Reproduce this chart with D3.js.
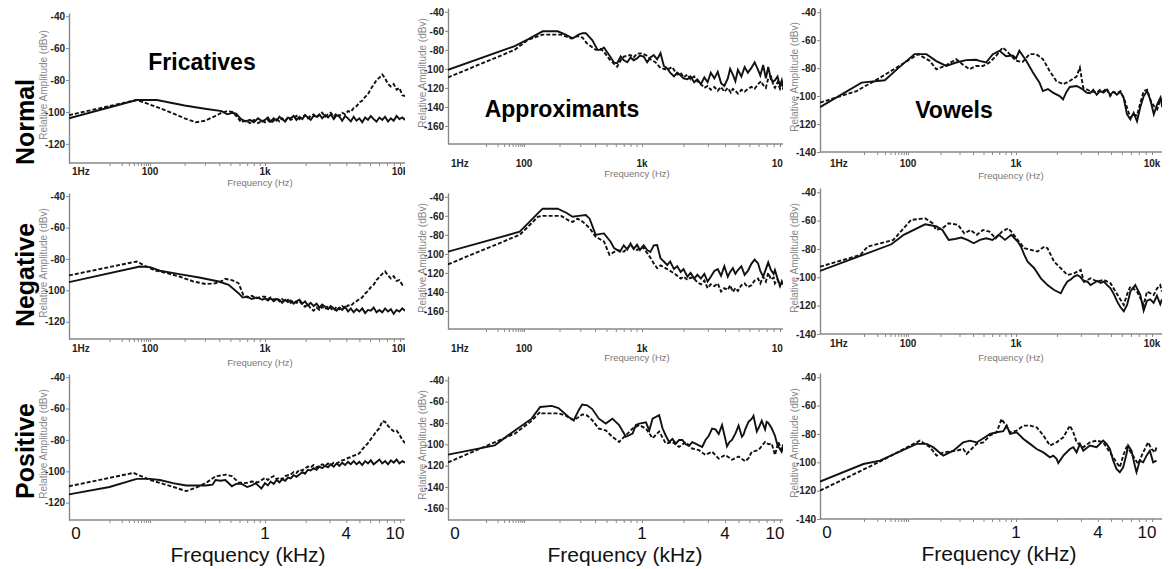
<!DOCTYPE html>
<html><head><meta charset="utf-8">
<script src="https://cdn.jsdelivr.net/npm/d3@7"></script>
<style>body{margin:0;background:#fff}svg{display:block}</style>
</head><body>
<svg id="chart" width="1171" height="569"></svg>
<script>
// ---------- categories & tick labels ----------
const rowNames = ["Normal", "Negative", "Positive"];
const colNames = ["Fricatives", "Approximants", "Vowels"];
const topTickValues = [1, 100, 1000, 10000];
const topTickLabels = ["1Hz", "100", "1k", "10k"];
const bottomTickValues = [1, 1000, 4000, 10000];
const bottomTickLabels = ["0", "1", "4", "10"];
const minorTickValues = [10,20,30,40,50,60,70,80,90,200,300,400,500,600,700,800,900,2000,3000,4000,5000,6000,7000,8000,9000];
const yTicksFric = [-40, -60, -80, -100, -120];
const yTicksAppr = [-40, -60, -80, -100, -120, -140, -160];
const yTicksVow = [-40, -60, -80, -100, -120, -140];
const yTitle = "Relative Amplitude (dBv)";
const xTitleHz = "Frequency (Hz)";
const xTitleKHz = "Frequency (kHz)";

// ---------- series: [frequency Hz, relative amplitude dBv] ----------
const fricNormalSolid = [[1,-104],[47,-92.5],[115,-92.5],[200,-96],[300,-98],[420,-99.5],[470,-101.5],[520,-100.5],[560,-101],[620,-104.5],[680,-106],[740,-105],[800,-106.5],[870,-104],[950,-106],[1000,-105],[1050,-103.5],[1100,-106],[1160,-104],[1220,-105.5],[1280,-103],[1340,-104.5],[1410,-106],[1480,-103.5],[1550,-104],[1630,-102.5],[1710,-105],[1800,-103],[1890,-104.5],[1980,-102],[2080,-103.5],[2180,-105],[2290,-102.5],[2410,-103],[2530,-101.5],[2650,-104],[2790,-102],[2930,-103.5],[3070,-101.5],[3230,-104.5],[3390,-102],[3560,-103],[3730,-105.5],[3920,-102.5],[4120,-104],[4320,-106],[4540,-103],[4760,-105.5],[5000,-104],[5250,-106.5],[5520,-103.5],[5790,-105],[6080,-102.5],[6380,-104.5],[6700,-106],[7040,-103.5],[7390,-105],[7760,-103],[8150,-106],[8560,-104],[8980,-105.5],[9430,-102.5],[9900,-104.5],[10400,-103.5],[10900,-105]];
const fricNormalDashed = [[1,-102],[47,-92.5],[80,-94.5],[120,-97.5],[160,-101],[200,-104],[250,-106.5],[300,-105.5],[360,-103],[420,-100.5],[470,-99.5],[520,-100],[570,-103],[620,-106.5],[680,-105.5],[740,-107],[800,-105],[870,-107],[950,-105.5],[1000,-106.5],[1050,-105],[1100,-107],[1160,-105.5],[1220,-104.5],[1280,-106],[1340,-104],[1410,-105.5],[1480,-103.5],[1550,-105],[1630,-104],[1710,-102.5],[1800,-104.5],[1890,-103],[1980,-102],[2080,-104],[2180,-102.5],[2290,-101.5],[2410,-103.5],[2530,-102],[2650,-100.5],[2790,-103],[2930,-101.5],[3070,-100.5],[3230,-103],[3390,-101],[3560,-102.5],[3730,-100.5],[3920,-101.5],[4120,-99.5],[4320,-100],[4540,-97.5],[4760,-96.5],[5000,-94],[5250,-93],[5520,-90.5],[5790,-89],[6080,-85.5],[6380,-83],[6700,-80],[7040,-78.5],[7390,-76.5],[7760,-79],[8150,-82.5],[8560,-84],[8980,-82.5],[9430,-86],[9900,-85],[10400,-89.5],[10900,-90]];

const fricNegativeSolid = [[1,-94.8],[56,-84.8],[100,-85.2],[122,-87.5],[180,-89.7],[268,-91.8],[396,-94.4],[483,-96.5],[588,-101.8],[640,-104.6],[700,-104],[766,-105.5],[850,-104.5],[950,-106],[1000,-105],[1050,-106.5],[1100,-105],[1160,-107],[1220,-105.5],[1280,-106],[1340,-108],[1410,-106],[1480,-107.5],[1550,-106.5],[1630,-108.5],[1710,-107],[1800,-106],[1890,-108.5],[1980,-107],[2080,-109.5],[2180,-108],[2290,-110],[2410,-108.5],[2530,-111],[2650,-109],[2790,-110.5],[2930,-112],[3070,-110],[3230,-111.5],[3390,-113],[3560,-111],[3730,-112.5],[3920,-110.5],[4120,-113.5],[4320,-111.5],[4540,-114],[4760,-112],[5000,-113.5],[5250,-111.5],[5520,-114.5],[5790,-112.5],[6080,-113],[6380,-111],[6700,-114],[7040,-112.5],[7390,-114],[7760,-111.5],[8150,-113.5],[8560,-112],[8980,-115],[9430,-112.5],[9900,-113.5],[10400,-111.5],[10900,-113]];
const fricNegativeDashed = [[1,-90.5],[47,-81.6],[82,-84.8],[110,-87.3],[140,-89],[180,-91.2],[240,-94.4],[305,-96],[370,-95.5],[424,-94],[450,-92.7],[515,-93.5],[588,-95.4],[648,-103],[700,-104.5],[766,-103.5],[850,-105],[950,-104],[1000,-104],[1050,-105.5],[1100,-104.5],[1160,-106],[1220,-105],[1280,-107],[1340,-105.5],[1410,-107.5],[1480,-106],[1550,-108],[1630,-106.5],[1710,-108],[1800,-107],[1890,-109],[1980,-110.5],[2080,-109],[2180,-111.5],[2290,-113],[2410,-111],[2530,-112.5],[2650,-110.5],[2790,-112],[2930,-110],[3070,-111.5],[3230,-113],[3390,-110.5],[3560,-112],[3730,-110],[3920,-111.5],[4120,-109.5],[4320,-110],[4540,-108],[4760,-107],[5000,-105.5],[5250,-104.5],[5520,-102],[5790,-100.5],[6080,-98],[6380,-96.5],[6700,-93.5],[7040,-91.5],[7390,-89.5],[7760,-88],[8150,-90.5],[8560,-92.5],[8980,-91],[9430,-94],[9900,-93.5],[10400,-96.5],[10900,-97]];

const fricPositiveSolid = [[1,-114.7],[10,-110],[47,-104.8],[100,-104.8],[122,-105.5],[158,-107.5],[206,-109],[250,-109],[305,-109],[350,-108.5],[371,-105.5],[410,-106],[452,-105.5],[515,-109.5],[560,-108],[628,-108],[700,-110],[766,-109],[830,-107.5],[930,-111],[1000,-107.5],[1050,-109],[1100,-106.5],[1160,-108],[1220,-105.5],[1280,-107],[1340,-105],[1410,-106],[1480,-104],[1550,-104.5],[1630,-102.5],[1710,-103.5],[1800,-102],[1890,-100.5],[1980,-101.5],[2080,-99],[2180,-99.5],[2290,-98],[2410,-99],[2530,-97],[2650,-98],[2790,-96.5],[2930,-97.5],[3070,-95.5],[3230,-97],[3390,-95],[3560,-96.5],[3730,-94.5],[3920,-96],[4120,-94],[4320,-95.5],[4540,-93.5],[4760,-95.5],[5000,-94],[5250,-96],[5520,-93.5],[5790,-95],[6080,-93],[6380,-95.5],[6700,-94],[7040,-92.5],[7390,-95],[7760,-93.5],[8150,-95.5],[8560,-93],[8980,-94.5],[9430,-92.5],[9900,-95],[10400,-93.5],[10900,-94.5]];
const fricPositiveDashed = [[1,-109.5],[39,-101],[60,-103],[100,-105.5],[130,-108],[160,-110],[206,-112.6],[250,-110.5],[305,-107.5],[371,-103.2],[452,-102.1],[515,-103],[588,-107],[680,-107.5],[766,-106.5],[871,-107],[1000,-104.2],[1050,-105.5],[1100,-104],[1160,-103],[1220,-105],[1280,-104],[1340,-105],[1410,-103],[1480,-102.5],[1550,-102],[1630,-100.5],[1710,-101],[1800,-99],[1890,-99.5],[1980,-98],[2080,-97],[2180,-97.5],[2290,-96],[2410,-97.5],[2530,-96.5],[2650,-95.5],[2790,-96.5],[2930,-95],[3070,-96],[3230,-94.5],[3390,-95],[3560,-94],[3730,-93],[3920,-92.5],[4120,-91.5],[4320,-91],[4540,-90],[4760,-89.5],[5000,-88.5],[5250,-86],[5520,-84],[5790,-82],[6080,-79.5],[6380,-77],[6700,-74.5],[7040,-72.5],[7390,-68],[7760,-68.5],[8150,-71],[8560,-73],[8980,-74.5],[9430,-74],[9900,-76.5],[10400,-80],[10900,-82]];

const apprNormalSolid = [[1,-101],[57,-76],[108,-69],[144,-60.5],[193,-60.5],[225,-64],[258,-68],[290,-64],[313,-62.5],[334,-62.5],[380,-70],[420,-80],[446,-80],[476,-77.5],[530,-86],[580,-93.5],[616,-94],[660,-87],[702,-91],[750,-93],[800,-88],[850,-91],[908,-89],[960,-86],[1028,-87],[1090,-93],[1151,-88],[1217,-85.5],[1287,-90],[1362,-83.5],[1440,-97],[1524,-99.5],[1600,-104],[1705,-108],[1800,-104],[1907,-107],[2000,-110],[2134,-111],[2250,-108],[2388,-114],[2520,-111],[2671,-116],[2830,-109],[2989,-114],[3150,-104],[3344,-110],[3540,-103],[3741,-115],[3950,-118],[4186,-110],[4350,-100],[4554,-106],[4750,-113],[4954,-101],[5250,-108],[5542,-98],[5850,-104],[6200,-99],[6550,-93],[6937,-101],[7200,-107],[7549,-96],[7900,-110],[8215,-98],[8600,-111],[9000,-113],[9190,-112],[9600,-108],[10000,-118],[10300,-112],[10578,-120]];
const apprNormalDashed = [[1,-109],[57,-80],[108,-69.5],[144,-64],[206,-64],[250,-68],[284,-65.5],[313,-67],[340,-73],[405,-80],[446,-79],[476,-82],[530,-90],[616,-97.7],[660,-91],[702,-87],[798,-85.5],[850,-88],[908,-84],[1000,-83.7],[1080,-86],[1151,-90],[1250,-93],[1362,-99],[1524,-101],[1650,-98],[1800,-106],[1907,-104],[2000,-109],[2134,-106],[2250,-111],[2388,-108],[2520,-113],[2671,-116],[2830,-120],[2989,-118],[3150,-122],[3344,-119],[3540,-123],[3741,-119],[3950,-124],[4186,-120],[4400,-125],[4554,-121],[4750,-123],[4954,-126],[5250,-122],[5542,-124],[5850,-121],[6200,-119],[6550,-121],[6937,-116],[7300,-113],[7549,-117],[7900,-120],[8215,-110],[8600,-108],[9000,-118],[9190,-120],[9600,-114],[10000,-121],[10300,-116],[10578,-122]];

const apprNegativeSolid = [[1,-97.7],[77,-76.7],[108,-68],[131,-57.5],[144,-52.5],[193,-52.5],[230,-57],[258,-61],[290,-60],[334,-59.2],[360,-63],[405,-80],[446,-79],[476,-78.5],[540,-87],[580,-94],[650,-97.7],[700,-91],[750,-95.5],[800,-89],[850,-95],[908,-90.5],[960,-96],[1028,-91],[1090,-96],[1151,-98],[1217,-91],[1287,-90.7],[1362,-104.7],[1440,-108],[1524,-111.7],[1600,-108],[1705,-116],[1800,-113],[1907,-119],[2000,-116],[2134,-124],[2250,-120],[2388,-126],[2520,-122],[2671,-126],[2830,-121],[2989,-129],[3150,-124],[3344,-118],[3540,-116],[3741,-123],[3950,-113],[4186,-124],[4350,-119],[4554,-115],[4750,-121],[4954,-117],[5250,-113],[5542,-122],[5850,-118],[6200,-110.5],[6550,-106],[6937,-110],[7200,-118],[7549,-124],[7900,-116],[8215,-109],[8600,-117],[9000,-121],[9190,-117],[9600,-126],[10000,-133],[10300,-130],[10578,-132]];
const apprNegativeDashed = [[1,-111],[77,-80],[108,-71.5],[131,-61],[144,-60],[206,-60],[240,-65],[258,-66.5],[284,-63],[313,-66],[360,-73],[405,-82],[476,-87],[530,-101],[616,-96],[702,-97.7],[798,-90.7],[850,-94],[908,-96],[980,-93],[1028,-94],[1151,-104],[1217,-110],[1287,-115],[1362,-112],[1440,-114],[1524,-116],[1705,-120.4],[1800,-123],[1907,-126],[2000,-124],[2134,-127.4],[2250,-125],[2388,-126],[2520,-130],[2671,-132],[2830,-128],[2989,-136],[3150,-132],[3344,-134],[3540,-131],[3741,-139.7],[3950,-136],[4186,-138],[4350,-133],[4554,-140],[4750,-136],[4954,-139],[5250,-133],[5542,-131],[5850,-135],[6200,-133],[6550,-128],[6937,-126],[7200,-131],[7549,-124],[7900,-129],[8215,-120],[8600,-127],[9000,-125],[9190,-131],[9600,-127],[10000,-134],[10300,-129],[10578,-134]];

const apprPositiveSolid = [[1,-109.7],[17,-101],[57.6,-87],[116,-76],[137,-65],[172,-64],[196,-66],[239,-74.4],[264,-77.5],[291,-68],[311,-62.8],[343,-63.5],[379,-67],[431,-76],[493,-80.6],[561,-76],[640,-82],[730,-93],[832,-90],[888,-82],[948,-80.6],[1068,-79.5],[1129,-87],[1193,-76],[1332,-72.8],[1408,-85],[1488,-92],[1572,-97.8],[1661,-95],[1756,-99.4],[1856,-96],[1961,-96],[2072,-100],[2190,-101.5],[2314,-98],[2445,-99.4],[2584,-101],[2730,-102.5],[2885,-96],[3050,-92],[3222,-85.3],[3404,-86],[3598,-90.4],[3802,-82],[4018,-95],[4130,-102],[4300,-98],[4487,-96],[4750,-90],[5012,-82.5],[5296,-93],[5445,-91],[5597,-86],[5914,-79],[6250,-76],[6425,-73.4],[6790,-88],[6980,-85],[7375,-78],[7794,-86],[8000,-79],[8236,-80],[8703,-85],[9197,-92],[9456,-98],[9718,-102],[10270,-107],[10558,-100]];
const apprPositiveDashed = [[1,-117],[57.6,-90],[116,-78],[137,-69.7],[142,-71],[196,-71],[224,-73],[264,-77.5],[291,-74.4],[311,-72],[343,-73],[379,-77.5],[431,-85.3],[493,-87],[561,-93],[640,-97.8],[730,-91.5],[832,-85.3],[948,-82],[1068,-85.3],[1193,-94.4],[1332,-88],[1488,-99.4],[1661,-97.8],[1856,-102.5],[2072,-98],[2314,-104],[2584,-105.5],[2885,-110],[3222,-107],[3598,-113.4],[4018,-110],[4487,-114.5],[5012,-111.5],[5597,-116],[5914,-113],[6250,-107],[6980,-105.5],[7794,-97.8],[8236,-100],[8703,-99.4],[9197,-110],[9718,-98],[10270,-105],[10558,-107]];

const vowNormalSolid = [[1,-107.9],[8.8,-90.4],[29.7,-88.7],[60,-80],[115,-70],[148,-70],[183,-75],[226,-78.4],[279,-76],[345,-74.3],[427,-74],[459,-74.8],[529,-76],[610,-70],[703,-67.6],[810,-71.5],[934,-71],[1000,-73],[1058,-67.6],[1186,-74.5],[1329,-83],[1489,-90.4],[1576,-96.4],[1716,-95],[1869,-97.5],[2095,-100],[2217,-102.3],[2350,-97],[2485,-93.5],[2785,-92.8],[2948,-94],[3120,-95.5],[3300,-97.5],[3497,-98],[3700,-95.5],[3919,-99],[4150,-96.5],[4392,-97.5],[4650,-95.5],[4922,-99],[5200,-97],[5516,-99],[5850,-97],[6182,-101],[6544,-113],[6927,-116.7],[7333,-112],[7762,-118],[8200,-108],[8694,-100],[9203,-96.4],[9742,-103],[10312,-113],[10916,-106],[11556,-101],[11889,-108]];
const vowNormalDashed = [[1,-104.7],[6.8,-96.4],[27,-85.6],[111,-72.4],[124,-70],[159,-74.8],[183,-80.8],[226,-78],[279,-73.6],[322,-77.5],[371,-80.8],[427,-78.5],[493,-78.5],[568,-76],[655,-71.2],[755,-65.2],[870,-69.8],[1000,-74.8],[1121,-75.5],[1255,-70],[1406,-70],[1576,-73.5],[1766,-82],[1979,-89.2],[2217,-91.5],[2485,-89.2],[2785,-86],[2948,-79.6],[3120,-94],[3497,-96.4],[3919,-97.5],[4150,-95.5],[4392,-96.5],[4650,-94.5],[4922,-100],[5200,-97],[5516,-98],[5850,-96.5],[6182,-101],[6544,-108],[6927,-115.5],[7333,-113],[7762,-114],[8200,-105],[8694,-96.4],[9203,-95.5],[9742,-103],[10312,-107],[10916,-109.5],[11556,-102],[11889,-103]];

const vowNegativeSolid = [[1,-95.5],[42,-76.7],[80,-70],[144,-62.6],[182,-64],[208,-66.6],[238,-73.6],[272,-73],[311,-72],[355,-73.6],[406,-76],[464,-73.6],[530,-72.5],[606,-73.6],[693,-70],[792,-73.6],[905,-70],[1028,-74.8],[1088,-78.4],[1151,-84.2],[1217,-89],[1362,-93.6],[1524,-100.7],[1705,-105.5],[1907,-109],[2134,-111.3],[2257,-106.6],[2388,-103],[2526,-101.5],[2671,-99.5],[2826,-98.4],[2989,-100],[3162,-103],[3344,-103],[3537,-105.5],[3741,-104],[3958,-102.5],[4186,-104],[4428,-103],[4684,-105.5],[4954,-107.8],[5250,-112],[5542,-117],[5850,-121],[6200,-124],[6558,-119.5],[6937,-110],[7535,-105.5],[8210,-112.5],[8684,-123.5],[9186,-116.5],[9716,-115.5],[10277,-118],[10870,-113],[11498,-119],[11826,-115.5]];
const vowNegativeDashed = [[1,-92.5],[8.3,-84.2],[12.1,-78.4],[46.4,-73.6],[107,-59.5],[144,-58.4],[170,-62],[182,-66.6],[208,-65.4],[238,-61.9],[291,-63],[332,-69],[380,-66.6],[434,-70],[496,-66.6],[567,-67.8],[648,-72.5],[741,-67.8],[847,-65.4],[905,-67.8],[1028,-73.6],[1151,-79.5],[1288,-80.7],[1441,-81.8],[1612,-78.4],[1705,-79.5],[1907,-89],[2134,-93.6],[2388,-98.4],[2671,-97.2],[2989,-94.8],[3162,-103],[3537,-100.7],[3958,-103],[4428,-101.8],[4954,-104.2],[5542,-112],[6200,-119.5],[6558,-112],[6937,-106.5],[7762,-110],[8684,-119.5],[9186,-110],[10277,-112.5],[10870,-108],[11498,-105.5],[11826,-110]];

const vowPositiveSolid = [[1,-113.6],[9.7,-101.2],[23,-98.8],[120,-87],[149,-87],[172,-89.5],[212,-95.3],[263,-91.8],[325,-85.9],[375,-84.7],[432,-86],[499,-83],[575,-80],[662,-78.8],[763,-78],[820,-74],[880,-80],[1011,-78.8],[1135,-83.5],[1268,-87],[1419,-90.6],[1588,-93],[1777,-96.5],[1880,-95.3],[1989,-97.6],[2046,-100.5],[2228,-95.3],[2493,-90.6],[2638,-89.4],[2790,-93],[2952,-87],[3123,-91.8],[3495,-88.2],[3912,-89.4],[4378,-84.7],[4631,-87],[4900,-90.6],[5183,-98.8],[5484,-104.7],[5801,-107],[6138,-103.5],[6494,-94.1],[6679,-88.2],[7067,-91.8],[7480,-102.4],[7693,-107],[8141,-98.8],[8612,-100],[9112,-95.3],[9639,-91.8],[10198,-100],[10790,-98.8]];
const vowPositiveDashed = [[1,-120],[23,-99.5],[120,-85.9],[129,-84.7],[160,-89.4],[184,-95.3],[212,-93],[282,-91.8],[325,-90.6],[349,-94.1],[432,-87],[499,-85.9],[575,-81],[662,-78.8],[736,-69.4],[880,-78.8],[1011,-77.6],[1135,-74.1],[1268,-74.1],[1419,-75.3],[1588,-81],[1777,-88.2],[1989,-85.9],[2228,-82.4],[2493,-74.1],[2638,-78.8],[2790,-85.9],[3123,-89.4],[3495,-85.9],[3912,-84.7],[4378,-85.9],[4900,-93],[5484,-100],[5801,-103.5],[6138,-95.3],[6494,-89.4],[6870,-91.8],[7480,-97.6],[7914,-101.2],[8612,-93],[9372,-85.9],[9915,-90.6],[10490,-93],[10790,-89.4]];

const seriesGrid = [
  [[fricNormalSolid, fricNormalDashed], [apprNormalSolid, apprNormalDashed], [vowNormalSolid, vowNormalDashed]],
  [[fricNegativeSolid, fricNegativeDashed], [apprNegativeSolid, apprNegativeDashed], [vowNegativeSolid, vowNegativeDashed]],
  [[fricPositiveSolid, fricPositiveDashed], [apprPositiveSolid, apprPositiveDashed], [vowPositiveSolid, vowPositiveDashed]]
];
const yTicksByCol = [yTicksFric, yTicksAppr, yTicksVow];

// ---------- layout (pixel geometry only) ----------
const colGeom = [
  {knots: [69, 150, 265, 400], right: 405, firstDx: 3},
  {knots: [448, 524, 642, 780], right: 783, firstDx: 3},
  {knots: [820, 908, 1016, 1152], right: 1162, firstDx: 10}
];
const panelGeom = [
  [{top: 13, bottom: 163, dom: [-132, -38], lab: 8, tit: 20}, {top: 8, bottom: 144, dom: [-179, -36], lab: 19, tit: 30}, {top: 8, bottom: 152, dom: [-140, -37], lab: 11, tit: 24}],
  [{top: 193, bottom: 339, dom: [-131, -38], lab: 9, tit: 24}, {top: 193, bottom: 329, dom: [-179, -36], lab: 19, tit: 29}, {top: 188, bottom: 334, dom: [-140, -37], lab: 9, tit: 24}],
  [{top: 374, bottom: 520, dom: [-131, -38]}, {top: 376, bottom: 520, dom: [-171, -36]}, {top: 373, bottom: 519, dom: [-140, -37]}]
];
const colTitlePos = [{x: 202, y: 70}, {x: 562, y: 117}, {x: 954, y: 118}];
const rowTitlePos = [{x: 34, y: 122}, {x: 34, y: 275}, {x: 34, y: 451}];

const FONT = "'Liberation Sans', Arial, Helvetica, sans-serif";
const svg = d3.select("#chart");
const defs = svg.append("defs");
const line = d3.line();

for (let r = 0; r < 3; r++) {
  for (let c = 0; c < 3; c++) {
    const cg = colGeom[c], pg = panelGeom[r][c];
    const k = cg.knots;
    const x = d3.scaleLog()
      .domain([1, 100, 1000, 10000, 100000])
      .range([k[0], k[1], k[2], k[3], k[3] + (k[3] - k[2])]);
    const y = d3.scaleLinear().domain(pg.dom).range([pg.bottom, pg.top]);
    const g = svg.append("g");
    const id = `clip${r}${c}`;
    defs.append("clipPath").attr("id", id).append("rect")
      .attr("x", k[0]).attr("y", pg.top - 6)
      .attr("width", cg.right - k[0]).attr("height", pg.bottom - pg.top + 5);
    const lid = `lclip${r}${c}`;
    defs.append("clipPath").attr("id", lid).append("rect")
      .attr("x", k[0] - 60).attr("y", pg.bottom).attr("width", cg.right - k[0] + 60).attr("height", 60);

    // y axis
    const yAxis = d3.axisLeft(y).tickValues(yTicksByCol[c]).tickSize(3).tickSizeOuter(0).tickPadding(1).tickFormat(d => d);
    const ya = g.append("g").attr("transform", `translate(${k[0]},0)`).call(yAxis);
    ya.select(".domain").attr("stroke", "#888").attr("stroke-width", 1.4);
    ya.selectAll(".tick line").attr("stroke", "#888");
    ya.selectAll(".tick text").attr("font-family", FONT).attr("font-size", 10)
      .attr("font-weight", "bold").attr("fill", "#222");

    // x axis line + minor ticks
    g.append("line").attr("x1", k[0]).attr("x2", cg.right).attr("y1", pg.bottom).attr("y2", pg.bottom)
      .attr("stroke", "#888").attr("stroke-width", 1.4);
    const xAxis = d3.axisBottom(x).tickValues(minorTickValues.concat([100, 1000, 10000])).tickSize(3).tickSizeOuter(0).tickFormat("");
    const xa = g.append("g").attr("transform", `translate(0,${pg.bottom})`).call(xAxis);
    xa.select(".domain").remove();
    xa.selectAll(".tick line").attr("stroke", "#888");

    // y title
    g.append("text")
      .attr("transform", `translate(${k[0] - 26},${(pg.top + pg.bottom) / 2 - 3}) rotate(-90)`)
      .attr("text-anchor", "middle").attr("dy", "0.35em")
      .attr("font-family", FONT).attr("font-size", 10).attr("fill", "#888")
      .text(yTitle);

    if (r < 2) {
      const lg = g.append("g").attr("clip-path", `url(#${lid})`);
      lg.selectAll("text.tl").data(topTickValues).join("text")
        .attr("x", (d, i) => i === 0 ? x(d) + cg.firstDx : x(d))
        .attr("y", pg.bottom + pg.lab).attr("dy", "0.35em")
        .attr("text-anchor", (d, i) => i === 0 ? "start" : "middle")
        .attr("font-family", FONT).attr("font-size", 10).attr("font-weight", "bold").attr("fill", "#222")
        .text((d, i) => topTickLabels[i]);
      g.append("text").attr("x", x(1000) - 5).attr("y", pg.bottom + pg.tit).attr("dy", "0.35em")
        .attr("text-anchor", "middle").attr("font-family", FONT).attr("font-size", 9.5).attr("fill", "#777")
        .text(xTitleHz);
    } else {
      g.selectAll("text.bl").data(bottomTickValues).join("text")
        .attr("x", (d, i) => i === 0 ? x(d) + 7 : (i === 3 ? x(d) - 5 : x(d)))
        .attr("y", pg.bottom + 13).attr("dy", "0.35em")
        .attr("text-anchor", "middle")
        .attr("font-family", FONT).attr("font-size", 17).attr("fill", "#111")
        .text((d, i) => bottomTickLabels[i]);
      g.append("text").attr("x", x(1000) - 17).attr("y", pg.bottom + 35).attr("dy", "0.35em")
        .attr("text-anchor", "middle").attr("font-family", FONT).attr("font-size", 21).attr("fill", "#111")
        .text(xTitleKHz);
    }

    // series
    const [solid, dashed] = seriesGrid[r][c];
    const pl = g.append("g").attr("clip-path", `url(#${id})`);
    line.x(d => x(d[0])).y(d => y(d[1]));
    pl.append("path").attr("d", line(dashed)).attr("fill", "none").attr("stroke", "#111")
      .attr("stroke-width", 1.9).attr("stroke-dasharray", "4,2");
    pl.append("path").attr("d", line(solid)).attr("fill", "none").attr("stroke", "#111")
      .attr("stroke-width", 1.9);
  }
}

// column titles
svg.selectAll("text.colt").data(colNames).join("text")
  .attr("x", (d, i) => colTitlePos[i].x).attr("y", (d, i) => colTitlePos[i].y)
  .attr("text-anchor", "middle").attr("font-family", FONT).attr("font-size", 23)
  .attr("font-weight", "bold").attr("fill", "#000").text(d => d);

// row titles
svg.selectAll("text.rowt").data(rowNames).join("text")
  .attr("transform", (d, i) => `translate(${rowTitlePos[i].x},${rowTitlePos[i].y}) rotate(-90)`)
  .attr("text-anchor", "middle").attr("font-family", FONT).attr("font-size", 25)
  .attr("font-weight", "bold").attr("fill", "#000").text(d => d);
</script>
</body></html>
